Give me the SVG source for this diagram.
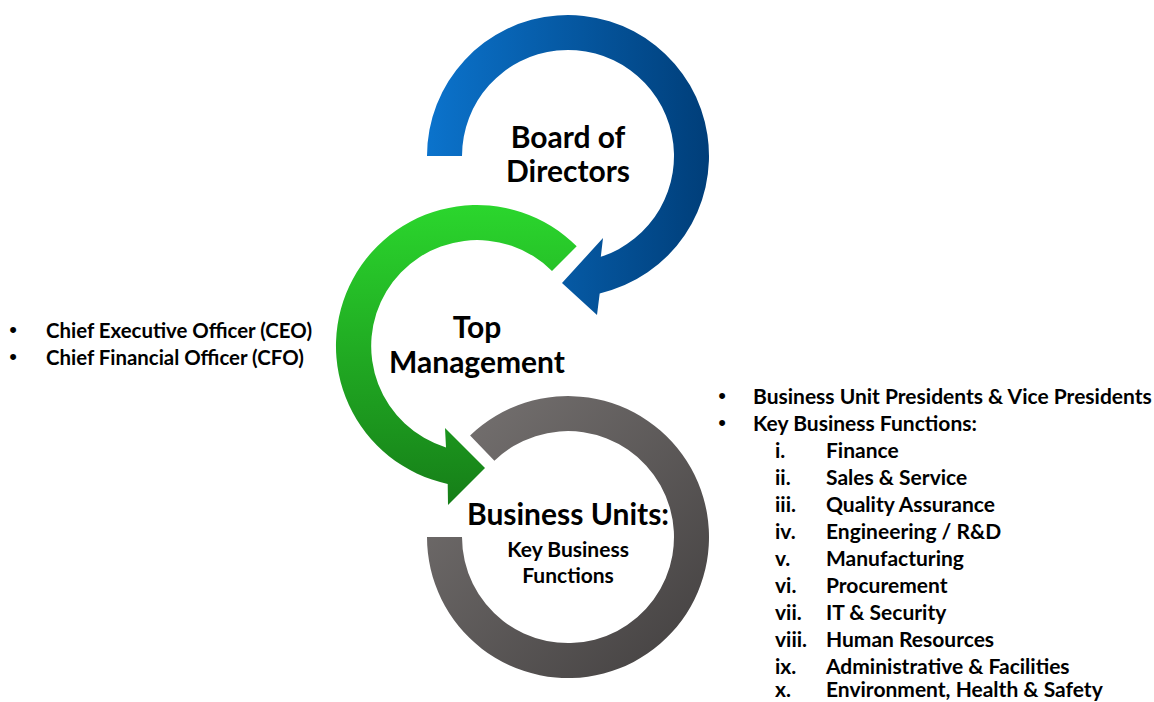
<svg xmlns="http://www.w3.org/2000/svg" width="1154" height="702" viewBox="0 0 1154 702">
<defs>
<linearGradient id="gBlue" gradientUnits="userSpaceOnUse" x1="427" y1="0" x2="710" y2="0">
<stop offset="0" stop-color="#0b73cc"/><stop offset="1" stop-color="#003e79"/>
</linearGradient>
<linearGradient id="gGreen" gradientUnits="userSpaceOnUse" x1="0" y1="205" x2="0" y2="505">
<stop offset="0" stop-color="#2bd62d"/><stop offset="1" stop-color="#167e18"/>
</linearGradient>
<linearGradient id="gGray" gradientUnits="userSpaceOnUse" x1="440" y1="410" x2="700" y2="670">
<stop offset="0" stop-color="#767271"/><stop offset="1" stop-color="#434040"/>
</linearGradient>
</defs>
<style>
.t{font-family:Lato,"Liberation Sans",sans-serif;font-weight:700;fill:#000}
.big{font-size:30px;text-anchor:middle}
.sm{font-size:21px}
.lf{font-size:20.4px}
.c{text-anchor:middle}
.b{font-family:"Liberation Sans",sans-serif;font-size:22px;text-anchor:middle;fill:#000}
</style>
<rect width="1154" height="702" fill="#fff"/>
<g id="node-board">
<path fill="url(#gBlue)" d="M427 156 A141 141 0 1 1 599.7 293.4 L597 315 L562 283 L603 238 L600.8 256.8 A106 106 0 1 0 462 156 Z"/>
<text class="t big" x="568" y="148">Board of</text>
<text class="t big" x="568" y="182">Directors</text>
</g>
<g id="node-top">
<path fill="url(#gGreen)" d="M576.7 246.3 A141 141 0 1 0 447.7 483.9 L448 505 L485 468 L445 428 L446 447.4 A106 106 0 1 1 552 271 Z"/>
<text class="t big" x="477" y="338">Top</text>
<text class="t big" x="477" y="373">Management</text>
</g>
<g id="node-bu">
<path fill="url(#gGray)" d="M427 537 A141 141 0 1 0 470.1 435.6 L494.4 460.8 A106 106 0 1 1 462 537 Z"/>
<text class="t big" x="568" y="525">Business Units:</text>
<text class="t sm c" x="568" y="557">Key Business</text>
<text class="t sm c" x="568" y="583">Functions</text>
</g>
<g id="list-top-management">
<text class="b" x="13" y="337">•</text>
<text class="t lf" x="46" y="338">Chief Executive Officer (CEO)</text>
<text class="b" x="13" y="364">•</text>
<text class="t lf" x="46" y="365">Chief Financial Officer (CFO)</text>
</g>
<g id="list-business-units">
<text class="b" x="722" y="403">•</text>
<text class="t sm" x="753" y="404">Business Unit Presidents &amp; Vice Presidents</text>
<text class="b" x="722" y="430">•</text>
<text class="t sm" x="753" y="431">Key Business Functions:</text>
<text class="t sm" x="775" y="458">i.</text><text class="t sm" x="826" y="458">Finance</text>
<text class="t sm" x="775" y="485">ii.</text><text class="t sm" x="826" y="485">Sales &amp; Service</text>
<text class="t sm" x="775" y="512">iii.</text><text class="t sm" x="826" y="512">Quality Assurance</text>
<text class="t sm" x="775" y="539">iv.</text><text class="t sm" x="826" y="539">Engineering / R&amp;D</text>
<text class="t sm" x="775" y="566">v.</text><text class="t sm" x="826" y="566">Manufacturing</text>
<text class="t sm" x="775" y="593">vi.</text><text class="t sm" x="826" y="593">Procurement</text>
<text class="t sm" x="775" y="620">vii.</text><text class="t sm" x="826" y="620">IT &amp; Security</text>
<text class="t sm" x="775" y="647">viii.</text><text class="t sm" x="826" y="647">Human Resources</text>
<text class="t sm" x="775" y="674">ix.</text><text class="t sm" x="826" y="674">Administrative &amp; Facilities</text>
<text class="t sm" x="775" y="697">x.</text><text class="t sm" x="826" y="697">Environment, Health &amp; Safety</text>
</g>
</svg>
